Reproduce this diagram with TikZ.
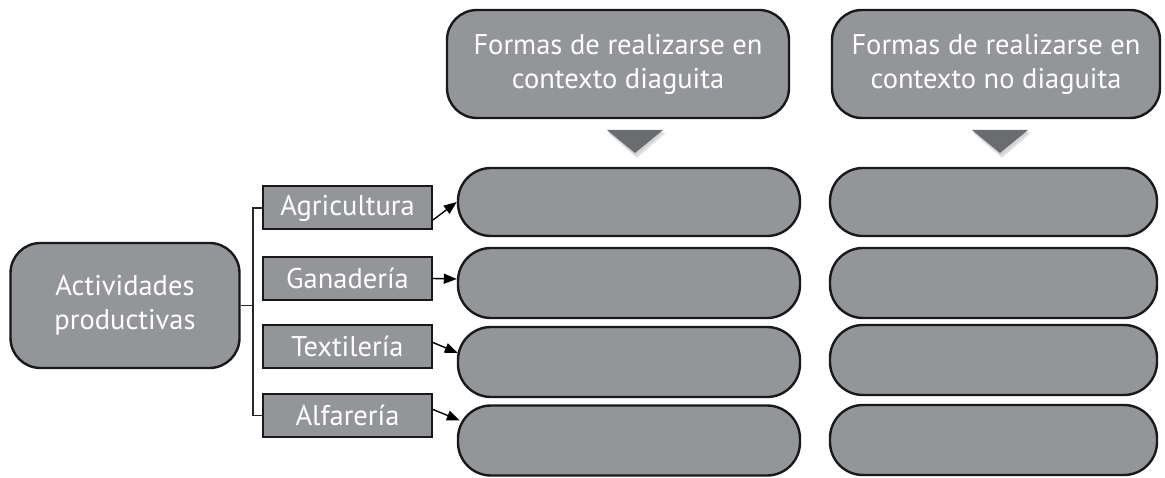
\documentclass[tikz,border=0pt]{standalone}
\usepackage{fontspec}
\setmainfont{PT Sans}
\usetikzlibrary{arrows.meta}
\definecolor{boxgray}{HTML}{939598}
\definecolor{tridark}{HTML}{6B6C6F}
\definecolor{trishadow}{HTML}{C8C8C8}
\tikzset{
  txt/.style={font=\fontsize{28.5}{34}\selectfont, text=white, align=center},
  bigbox/.style={draw=black!90, line width=2.4pt, fill=boxgray, rounded corners=30pt, inner sep=0pt},
  pill/.style={draw=black!90, line width=2.4pt, fill=boxgray, rounded corners=33pt, inner sep=0pt},
  smallbox/.style={draw=black!90, line width=2pt, fill=boxgray, inner sep=0pt, minimum width=169pt, minimum height=43pt},
  bracket/.style={draw=black!85, line width=1.2pt},
  arr/.style={draw=black, line width=1.4pt, -{Triangle[length=13pt,width=10pt]}},
  tri/.style={fill=tridark, draw=none},
}
\begin{document}
\begin{tikzpicture}[x=1pt, y=-1pt]
\useasboundingbox (0,0) rectangle (1165,478);

% left box
\node[bigbox, txt, minimum width=229pt, minimum height=125pt] (act) at (125,305.5) {Actividades\\productivas};

% small boxes
\node[smallbox, txt] (agr) at (347.5,208) {Agricultura};
\node[smallbox, txt] (gan) at (347.5,278.5) {Ganadería};
\node[smallbox, txt] (tex) at (347.5,346.5) {Textilería};
\node[smallbox, txt] (alf) at (347.5,415.5) {Alfarería};

% header boxes
\node[bigbox, txt, minimum width=342pt, minimum height=108pt] (h1) at (618,64) {Formas de realizarse en\\contexto diaguita};
\node[bigbox, txt, minimum width=328pt, minimum height=108pt] (h2) at (996,64) {Formas de realizarse en\\contexto no diaguita};

% row pills column 1
\node[pill, minimum width=342pt, minimum height=68pt] (r1a) at (629,202) {};
\node[pill, minimum width=342pt, minimum height=70pt] (r2a) at (629,283) {};
\node[pill, minimum width=342pt, minimum height=70pt] (r3a) at (629,362) {};
\node[pill, minimum width=342pt, minimum height=70pt] (r4a) at (629,440.5) {};
% row pills column 2
\node[pill, minimum width=327pt, minimum height=68pt] (r1b) at (993.5,202) {};
\node[pill, minimum width=327pt, minimum height=70pt] (r2b) at (993.5,283) {};
\node[pill, minimum width=327pt, minimum height=70pt] (r3b) at (993.5,360) {};
\node[pill, minimum width=327pt, minimum height=70pt] (r4b) at (993.5,440) {};

% triangles with soft shadow
\foreach \cx in {635,1000}{
  \fill[trishadow, opacity=0.5] (\cx-27,133) -- (\cx+31,133) -- (\cx+2,158) -- cycle;
  \fill[trishadow, opacity=0.6] (\cx-27,132) -- (\cx+29,132) -- (\cx+1,156) -- cycle;
  \fill[tri] (\cx-28,130) -- (\cx+28,130) -- (\cx,153) -- cycle;
}

% bracket
\coordinate (bx) at (253,0);
\draw[bracket] (act.east) -- (act.east -| bx);
\draw[bracket] (agr.west) -- (agr.west -| bx) -- (alf.west -| bx) -- (alf.west);

% arrows
\draw[arr] ([yshift=-12pt]agr.east) -- ([xshift=0pt]r1a.west);
\draw[arr] (gan.east) -- ([yshift=4pt]r2a.west);
\draw[arr] ([yshift=4pt]tex.east) -- ([xshift=1pt,yshift=9pt]r3a.west);
\draw[arr] ([yshift=6pt]alf.east) -- ([xshift=3pt,yshift=20pt]r4a.west);
\end{tikzpicture}
\end{document}
